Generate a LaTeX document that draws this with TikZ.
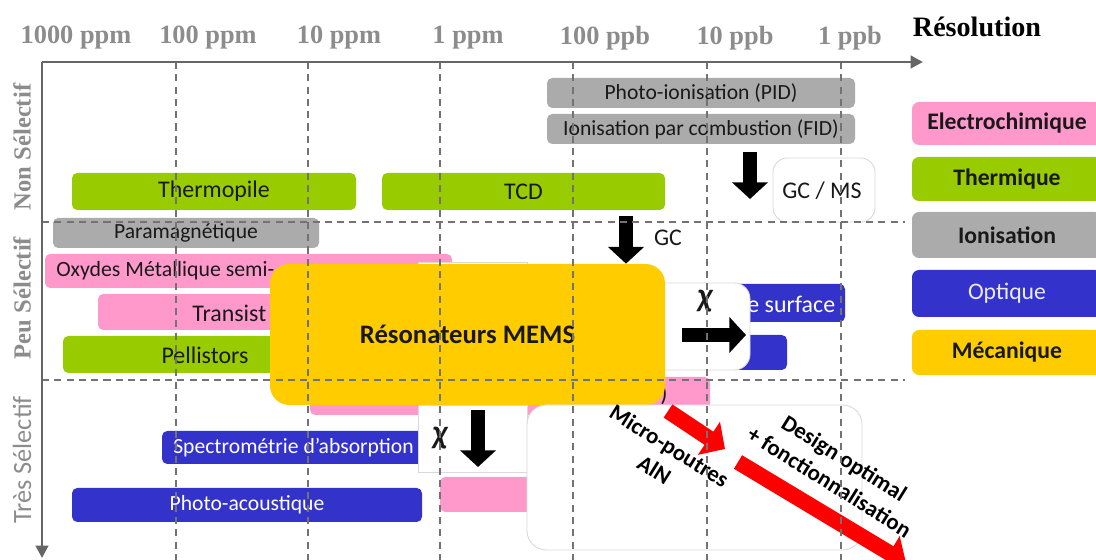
\documentclass[tikz,border=0pt]{standalone}
\usepackage{fontspec}
\setmainfont{Carlito}
\newfontfamily\serifbf{Liberation Serif}
\usetikzlibrary{arrows.meta}
\definecolor{elecpink}{HTML}{FF99CC}
\definecolor{thermgreen}{HTML}{99CC00}
\definecolor{iongray}{HTML}{ABABAB}
\definecolor{optblue}{HTML}{3333CC}
\definecolor{mecayellow}{HTML}{FFCC00}
\definecolor{axisgray}{HTML}{666666}
\definecolor{labelgray}{HTML}{8C8C8C}
\definecolor{boxline}{HTML}{D9D9D9}
\definecolor{arrowred}{HTML}{FF0000}
\tikzset{
  techbar/.style={rounded corners=3pt, inner sep=0pt, text=black!90, font=\fontsize{13.6}{15}\selectfont},
  thinbar/.style={techbar, font=\fontsize{12.3}{14}\selectfont},
  legendbox/.style={rounded corners=4pt, inner sep=0pt, text=black!90, font=\bfseries\fontsize{13.5}{15}\selectfont},
  whitebox/.style={fill=white, draw=boxline, line width=0.5pt, inner sep=0pt},
  scalelabel/.style={font=\serifbf\bfseries\fontsize{15}{17}\selectfont, text=labelgray},
  blockarrow/.style={line width=8.5pt, -{Triangle[width=20pt,length=9.5pt]}},
  redarrow/.style={arrowred, line width=9pt, -{Triangle[width=22pt,length=11pt]}},
  griddash/.style={black!55, dash pattern=on 4pt off 3pt, line width=0.6pt},
  axisline/.style={axisgray, line width=1.7pt, -{Triangle[width=7pt,length=7pt]}},
  slanted/.style={rotate=-32, align=center, font=\bfseries\fontsize{13}{16}\selectfont},
  chisign/.style={techbar, font=\bfseries\itshape\fontsize{19}{21}\selectfont},
}
% name, x1, y1, x2, y2, style, text
\newcommand\barnode[7]{%
  \node[#6, minimum width={(#4-#2)*0.02cm}, minimum height={(#5-#3)*0.02cm}]
    (#1) at ({(#2+#4)/2},{(#3+#5)/2}) {#7};}
\begin{document}
\begin{tikzpicture}[x=0.02cm, y=-0.02cm]
  \useasboundingbox[fill=white] (0,0) rectangle (1096,560);
  % ionisation
  \barnode{pid}{547}{78}{855}{108}{thinbar, fill=iongray}{Photo-ionisation (PID)}
  \barnode{fid}{547}{114}{855}{144}{thinbar, fill=iongray}{Ionisation par combustion (FID)}
  \barnode{param}{53}{218}{319}{248}{thinbar, fill=iongray}{Paramagnétique}
  % thermique
  \barnode{thermo}{72}{173}{356}{210}{techbar, fill=thermgreen}{Thermopile}
  \barnode{tcd}{382}{173}{665}{210}{techbar, fill=thermgreen}{TCD}
  \barnode{pell}{63}{336}{400}{373}{techbar, fill=thermgreen}{}
  \node[techbar] (pelltxt) at (205,355) {Pellistors};
  % electrochimique
  \barnode{oxyd}{45}{254}{452}{288}{techbar, fill=elecpink}{}
  \node[techbar, anchor=west, font=\fontsize{12.4}{14}\selectfont] (oxydtxt) at (56,271) {Oxydes Métallique semi-};
  \barnode{trans}{98}{294}{400}{330}{techbar, fill=elecpink}{}
  \node[techbar, anchor=west] (transtxt) at (192,313) {Transist};
  \barnode{ecbas}{310}{377}{710}{415}{techbar, fill=elecpink}{}
  \node[techbar] (ecbastxt) at (664,394) {)};
  \barnode{ecfin}{440}{477}{560}{512}{techbar, fill=elecpink}{}
  % optique
  \barnode{saw}{700}{284}{845}{322}{thinbar, fill=optblue}{}
  \node[techbar, text=white, anchor=west] (sawtxt) at (747,304) {e surface};
  \barnode{optb}{700}{335}{787}{370}{thinbar, fill=optblue}{}
  \barnode{spectro}{162}{431}{425}{464}{thinbar, fill=optblue, text=white}{Spectrométrie d’absorption}
  \barnode{photoac}{72}{488}{422}{522}{thinbar, fill=optblue, text=white}{Photo-acoustique}
  % masques blancs
  \barnode{maskoxyd}{418}{262}{527}{292}{whitebox}{}
  \barnode{chiright}{640}{283}{750}{370}{whitebox, rounded corners=9pt}{}
  \barnode{gcms}{773}{158}{875}{222}{whitebox, rounded corners=8pt}{}
  \node[techbar] (gcmstxt) at (822,191) {GC / MS};
  % mecanique
  \barnode{mems}{270}{264}{665}{405}{techbar, fill=mecayellow, rounded corners=11pt,
    font=\bfseries\fontsize{15.2}{17}\selectfont}{Résonateurs MEMS}
  \barnode{chilow}{418}{405}{527}{472}{whitebox}{}
  \barnode{mpbox}{527}{405}{862}{550}{whitebox, rounded corners=11pt}{}
  \node[chisign] (chia) at (705,301) {χ};
  \node[chisign] (chib) at (440,438) {χ};
  % fleches
  \coordinate (gcstart) at (626,216);
  \draw[blockarrow] (gcstart) -- (gcstart |- mems.north);
  \node[techbar] (gctxt) at (668,238) {GC};
  \coordinate (msstart) at (750,152);
  \coordinate (msend) at (750,199);
  \draw[blockarrow] (msstart) -- (msend);
  \coordinate (chiastart) at (682,335);
  \coordinate (chiaend) at (746,335);
  \draw[blockarrow] (chiastart) -- (chiaend);
  \coordinate (chibstart) at (478,410);
  \coordinate (chibend) at (478,467);
  \draw[blockarrow] (chibstart) -- (chibend);
  \coordinate (reda) at (668,411);
  \coordinate (redb) at (725,449);
  \draw[redarrow] (reda) -- (redb);
  \coordinate (redc) at (738,462);
  \coordinate (redd) at (906,563);
  \draw[redarrow] (redc) -- (redd);
  \node[slanted] (micro) at (662,458) {Micro-poutres\\AlN};
  \node[slanted] (design) at (837,470) {Design optimal\\+ fonctionnalisation};
  % legende
  \barnode{legelec}{912}{102}{1102}{145}{legendbox, fill=elecpink}{Electrochimique}
  \barnode{legtherm}{912}{157}{1102}{201}{legendbox, fill=thermgreen}{Thermique}
  \barnode{legion}{912}{212}{1102}{258}{legendbox, fill=iongray}{Ionisation}
  \barnode{legopt}{912}{270}{1102}{317}{legendbox, fill=optblue, text=blue!8, font=\fontsize{13.5}{15}\selectfont}{Optique}
  \barnode{legmeca}{912}{330}{1102}{375}{legendbox, fill=mecayellow}{Mécanique}
  % grille
  \foreach \gx in {176,308,440,573,707,841}
    \draw[griddash] (\gx,62) -- (\gx,560);
  \foreach \gy in {222,380}
    \draw[griddash] (42,\gy) -- (905,\gy);
  % axes
  \draw[axisline] (42,62) -- (923,62);
  \draw[axisline] (42,62) -- (42,558);
  \foreach \gx/\gtxt in {76/1000 ppm, 208/100 ppm, 339/10 ppm, 468/1 ppm,
      605/100 ppb, 735/10 ppb, 850/1 ppb}
    \node[scalelabel] (res\gx) at (\gx,38) {\gtxt};
  \node[scalelabel, text=black, font=\serifbf\bfseries\fontsize{16}{18}\selectfont] (resol) at (977,27) {Résolution};
  \node[scalelabel, rotate=90, font=\serifbf\bfseries\fontsize{14}{16}\selectfont] (nonsel) at (22,147) {Non Sélectif};
  \node[scalelabel, rotate=90, font=\serifbf\bfseries\fontsize{14}{16}\selectfont] (peusel) at (22,298) {Peu Sélectif};
  \node[scalelabel, rotate=90, font=\fontsize{15}{17}\selectfont] (tressel) at (22,460) {Très Sélectif};
\end{tikzpicture}
\end{document}
